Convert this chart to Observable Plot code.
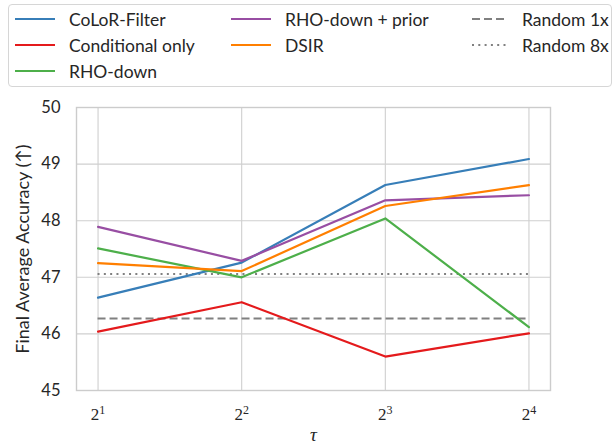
<!DOCTYPE html>
<html>
<head>
<meta charset="utf-8">
<script src="https://cdn.jsdelivr.net/npm/d3@7"></script>
<script src="https://cdn.jsdelivr.net/npm/@observablehq/plot@0.6"></script>
<style>
  html, body { margin: 0; padding: 0; background: #fff; }
  #wrap { position: relative; width: 614px; height: 445px; font-family: Lato, "DejaVu Sans", sans-serif; color: #262626; }
  #legend { position: absolute; left: 8px; top: 4px; width: 604px; height: 83px; border: 1px solid #d6d6d6; border-radius: 4px; background: rgba(255,255,255,0.85); box-sizing: border-box; z-index: 2; }
  .item { position: absolute; display: flex; align-items: center; font-size: 17.5px; white-space: nowrap; }
  .item svg { margin-right: 14px; }
  #chart { position: absolute; left: 0; top: 0; }
</style>
</head>
<body>
<div id="wrap"><div id="legend"></div><div id="chart"></div></div>
<script>
// ---- data ----
const taus = [2, 4, 8, 16];
const seriesNames = ["CoLoR-Filter", "Conditional only", "RHO-down", "RHO-down + prior", "DSIR"];
const seriesColors = ["#377eb8", "#e41a1c", "#4daf4a", "#984ea3", "#ff7f00"];
const colorFilter = [46.64, 47.26, 48.63, 49.09];
const conditionalOnly = [46.04, 46.56, 45.60, 46.01];
const rhoDown = [47.51, 47.00, 48.04, 46.12];
const rhoDownPrior = [47.89, 47.29, 48.36, 48.45];
const dsir = [47.25, 47.11, 48.26, 48.63];
const baselineNames = ["Random 1x", "Random 8x"];
const baselineValues = [46.27, 47.06];
const baselineDash = ["8,4", "2,4.3"];
const yTicks = [45, 46, 47, 48, 49, 50];

const seriesValues = [colorFilter, conditionalOnly, rhoDown, rhoDownPrior, dsir];
const rows = [];
seriesNames.forEach((name, i) => taus.forEach((t, j) => rows.push({series: name, tau: t, acc: seriesValues[i][j]})));

const marks = [
  Plot.gridX(taus, {stroke: "#cfcfcf", strokeOpacity: 1, strokeWidth: 1.1}),
  Plot.gridY(yTicks, {stroke: "#cfcfcf", strokeOpacity: 1, strokeWidth: 1.1}),
  Plot.frame({stroke: "#cccccc", strokeWidth: 1.4}),
];
baselineValues.forEach((v, i) => {
  marks.push(Plot.ruleY([v], {x1: taus[0], x2: taus[taus.length - 1], stroke: "#808080", strokeWidth: 2, strokeDasharray: baselineDash[i]}));
});
seriesNames.forEach((name, i) => {
  marks.push(Plot.line(rows.filter(d => d.series === name), {x: "tau", y: "acc", stroke: seriesColors[i], strokeWidth: 2.2}));
});
marks.push(
  Plot.axisX(taus, {tickSize: 0, tickPadding: 17, fontSize: 17, fontFamily: "Liberation Serif, serif", label: null, tickFormat: d => "2^" + Math.log2(d)}),
  Plot.axisY(yTicks, {tickSize: 0, tickPadding: 16, fontSize: 16.5, tickFormat: d => String(d), label: "Final Average Accuracy (↑)", labelAnchor: "center", labelOffset: 60, labelArrow: "none"}),
  Plot.text(["τ"], {frameAnchor: "bottom", dy: 50, fontSize: 19, fontStyle: "italic", fontFamily: "Liberation Serif, serif", fill: "#262626"})
);

const chart = Plot.plot({
  width: 614, height: 445,
  marginTop: 107, marginBottom: 55, marginLeft: 76, marginRight: 64,
  style: {fontFamily: "Lato, 'DejaVu Sans', sans-serif", color: "#262626", background: "transparent"},
  x: {type: "log", base: 2, domain: [Math.pow(2, 0.85), Math.pow(2, 4.15)]},
  y: {domain: [45, 50]},
  marks
});
document.getElementById("chart").appendChild(chart);

// superscript exponents on x tick labels
d3.select(chart).selectAll("g[aria-label='x-axis tick label'] text").each(function() {
  const t = this.textContent;
  if (t.indexOf("^") >= 0) {
    const [b, e] = t.split("^");
    const sel = d3.select(this);
    sel.text(b);
    sel.append("tspan").attr("dy", "-0.45em").attr("font-size", "12px").text(e);
  }
});
d3.select(chart).selectAll("g[aria-label='y-axis label'] text").attr("font-size", "18px");

// legend
const legend = document.getElementById("legend");
const items = seriesNames.map((n, i) => ({name: n, color: seriesColors[i], dash: null}))
  .concat(baselineNames.map((n, i) => ({name: n, color: "#808080", dash: baselineDash[i]})));
const colX = [6, 222, 463];
const rowY = [14, 40, 66];
const order = [[0,0],[0,1],[0,2],[1,0],[1,1],[2,0],[2,1]];
items.forEach((it, k) => {
  const [c, r] = order[k];
  const div = document.createElement("div");
  div.className = "item";
  div.style.left = colX[c] + "px";
  div.style.top = (rowY[r] - 11) + "px";
  div.style.height = "22px";
  const w = c === 2 ? 36 : 40;
  div.innerHTML = `<svg width="${w}" height="6"><line x1="0" x2="${w}" y1="3" y2="3" stroke="${it.color}" stroke-width="2" ${it.dash ? `stroke-dasharray="${it.dash}"` : ""}/></svg><span>${it.name}</span>`;
  legend.appendChild(div);
});
</script>
</body>
</html>
